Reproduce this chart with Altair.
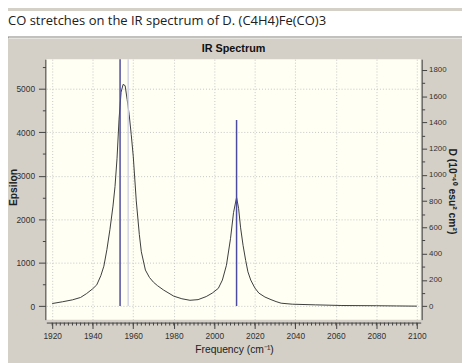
import altair as alt
import pandas as pd

# ---- data ----
freq = [1920, 1925, 1930, 1934, 1937, 1940, 1942, 1944, 1945.5, 1947, 1948.5, 1950,
        1951, 1952, 1953, 1954, 1955, 1956, 1957, 1958, 1959, 1960, 1961.5, 1963,
        1964, 1966, 1968, 1970, 1972, 1975, 1980, 1984, 1988, 1992, 1996, 1999,
        2002, 2004, 2006, 2008, 2009.5, 2011, 2012, 2013, 2014.2, 2015.5, 2016.6,
        2018, 2020, 2022, 2025, 2028, 2030.5, 2033, 2038.5, 2050, 2063, 2080, 2090, 2100]
eps = [60, 100, 145, 200, 290, 400, 490, 700, 920, 1300, 1765, 2300,
       2750, 3400, 4300, 4920, 5100, 5070, 4750, 4400, 3950, 3450, 2420, 1650,
       1250, 830, 660, 550, 470, 370, 230, 170, 135, 150, 220, 300,
       410, 600, 940, 1550, 2150, 2500, 2250, 1800, 1400, 1050, 790,
       600, 420, 300, 210, 150, 105, 68, 45, 30, 15, 10, 5, 0]

stick_freq = [1953.5, 1957.5, 2011.0]
stick_d = [2100, 2100, 1418]
stick_color = ["#4b4ba0", "#d2d3e6", "#4b4ba0"]

x_major = list(range(1920, 2101, 20))
x_minor = list(range(1920, 2101, 2))
eps_ticks = list(range(0, 5501, 500))
d_ticks = list(range(0, 1801, 100))

chart_title = "CO stretches on the IR spectrum of D. (C4H4)Fe(CO)3"
panel_title = "IR Spectrum"

curve_df = pd.DataFrame({"freq": freq, "eps": eps})
stick_df = pd.DataFrame({"freq": stick_freq, "d": stick_d,
                         "base": [0] * len(stick_freq), "color": stick_color})
minor_df = pd.DataFrame({"t": x_minor})
one = pd.DataFrame({"a": [0]})

W, H = 381, 265
LABEL_FONT = "Liberation Sans"
AX = "#404040"

x_scale = alt.Scale(domain=[1917.1, 2101.9], nice=False, zero=False)
m1000 = "datum.value % 1000 === 0"
m200 = "datum.value % 200 === 0"

x_axis = alt.Axis(
    values=x_major, format="d", tickSize=6,
    grid=True, gridColor="#c4c4c4", gridDash=[1, 2],
    offset=3, labelOverlap=False, labelFlush=False, labelPadding=3,
    labelFont=LABEL_FONT, labelFontSize=8.5, labelColor="#303030",
    domainColor=AX, tickColor=AX,
    title="Frequency (cm⁻¹)", titleFont=LABEL_FONT, titleFontSize=10.5,
    titleFontWeight="normal", titleColor="#202020",
    titleX=191, titleY=27, titleAlign="center", titleBaseline="middle",
)

y_left = alt.Axis(
    orient="left", values=eps_ticks, format="d",
    labelExpr=f"{m1000} ? datum.label : ''",
    tickSize={"condition": {"test": m1000, "value": 7}, "value": 3},
    grid=True, gridOpacity={"condition": {"test": m1000, "value": 1}, "value": 0},
    gridColor="#c4c4c4", gridDash=[1, 2],
    offset=1, labelOverlap=False, labelFlush=False, labelPadding=4,
    labelFont=LABEL_FONT, labelFontSize=8.5, labelColor="#303030",
    domainColor=AX, tickColor=AX,
    title="Epsilon", titleFont=LABEL_FONT, titleFontSize=10.5, titleFontWeight="bold",
    titleColor="#202020", titleAngle=270, titleX=-32, titleY=130,
    titleAlign="center", titleBaseline="middle",
)

y_right = alt.Axis(
    orient="right", values=d_ticks, format="d",
    labelExpr=f"{m200} ? datum.label : ''",
    tickSize={"condition": {"test": m200, "value": 5}, "value": 3},
    grid=False, offset=1, labelOverlap=False, labelFlush=False, labelPadding=2,
    labelFont=LABEL_FONT, labelFontSize=8, labelColor="#303030",
    domainColor=AX, tickColor=AX,
    title="D (10⁻⁴⁰ esu² cm²)", titleFont=LABEL_FONT, titleFontSize=10.5,
    titleFontWeight="bold", titleColor="#202020", titleAngle=90,
    titleX=30, titleY=134, titleAlign="center", titleBaseline="middle",
)

curve = alt.Chart(curve_df).mark_line(color="#3a3a3a", strokeWidth=1, clip=True).encode(
    x=alt.X("freq:Q", scale=x_scale, axis=x_axis),
    y=alt.Y("eps:Q", scale=alt.Scale(domain=[-310, 5678], nice=False, zero=False), axis=y_left),
)

sticks = alt.Chart(stick_df).mark_rule(strokeWidth=1.5, clip=True).encode(
    x=alt.X("freq:Q", scale=x_scale, axis=x_axis),
    y=alt.Y("d:Q", scale=alt.Scale(domain=[-103, 1882], nice=False, zero=False), axis=y_right),
    y2="base:Q",
    color=alt.Color("color:N", scale=None),
)

minor_ticks = alt.Chart(minor_df).mark_rule(color=AX, strokeWidth=1).encode(
    x=alt.X("t:Q", scale=x_scale, axis=x_axis),
    y=alt.value(H + 3), y2=alt.value(H + 6),
)

top_white = alt.Chart(one).mark_rect(color="white").encode(
    x=alt.value(-39), x2=alt.value(423), y=alt.value(-49), y2=alt.value(-23))
top_border = alt.Chart(one).mark_rule(color="#808080", strokeWidth=1).encode(
    x=alt.value(-39), x2=alt.value(423), y=alt.value(-22.5))
top_hl = alt.Chart(one).mark_rule(color="#f4f4f0", strokeWidth=1).encode(
    x=alt.value(-38), x2=alt.value(423), y=alt.value(-21.5))

title_txt = alt.Chart(one).mark_text(
    align="left", baseline="middle", font="Open Sans", fontSize=13.2, color="#202020"
).encode(x=alt.value(-39), y=alt.value(-39), text=alt.value(chart_title))

panel_txt = alt.Chart(one).mark_text(
    align="center", baseline="middle", font=LABEL_FONT, fontSize=11,
    fontWeight="bold", color="#101010"
).encode(x=alt.value(190.5), y=alt.value(-10), text=alt.value(panel_title))

chart = alt.layer(
    top_white, top_border, top_hl, title_txt, panel_txt, curve, minor_ticks, sticks
).resolve_scale(y="independent").properties(
    width=W, height=H,
    padding={"left": 39, "top": 49, "right": 42, "bottom": 41},
    autosize=alt.AutoSizeParams(type="none"),
    background="#d4d0c8",
).configure_view(fill="#fffff4", stroke=None)

chart.save("out.html", embed_options={"renderer": "svg", "actions": False})
